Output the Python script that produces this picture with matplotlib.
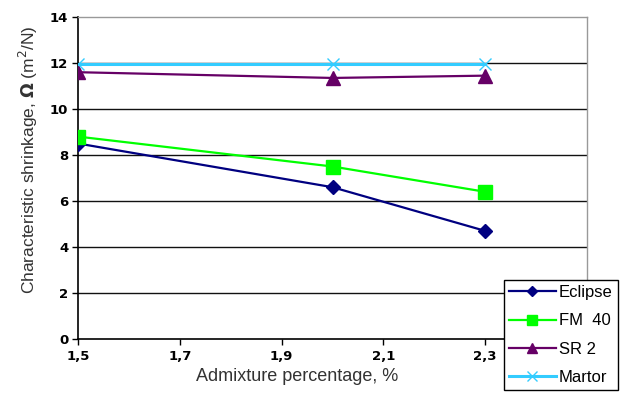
import matplotlib
matplotlib.use("Agg")
import matplotlib.pyplot as plt

x = [1.5, 2.0, 2.3]
eclipse = [8.5, 6.6, 4.7]
fm40 = [8.8, 7.5, 6.4]
sr2 = [11.6, 11.35, 11.45]
martor = [11.95, 11.95, 11.95]
xticks = [1.5, 1.7, 1.9, 2.1, 2.3]
xticklabels = ["1,5", "1,7", "1,9", "2,1", "2,3"]
yticks = [0, 2, 4, 6, 8, 10, 12, 14]

W, H = 633, 394
fig = plt.figure(figsize=(W/100, H/100), dpi=100)
ax = fig.add_axes([78/W, 1-339/H, (587-78)/W, (339-17)/H])

for yv in yticks[1:-1]:
    ax.axhline(yv, color="#111111", lw=1.0, zorder=1)

ax.plot(x, eclipse, color="#000080", marker="D", ms=7, lw=1.6, label="Eclipse", zorder=3)
ax.plot(x, fm40, color="#00FF00", marker="s", ms=10, lw=1.6, label="FM  40", zorder=3)
ax.plot(x, sr2, color="#660066", marker="^", ms=10, lw=1.6, label="SR 2", zorder=3)
ax.plot(x, martor, color="#33CCFF", marker="x", ms=9, mew=1.0, lw=2.2, label="Martor", zorder=4)

ax.set_xlim(1.5, 2.5)
ax.set_ylim(0, 14)
ax.set_xticks(xticks)
ax.set_xticklabels(xticklabels)
ax.set_yticks(yticks)
for lab in ax.get_xticklabels() + ax.get_yticklabels():
    lab.set_fontweight("bold")
    lab.set_fontfamily("DejaVu Sans")
    lab.set_fontsize(9.5)
ax.tick_params(axis="both", length=4, width=1, color="black", pad=3)
ax.tick_params(axis="x", pad=4)

for side in ["left", "bottom"]:
    ax.spines[side].set_color("black")
    ax.spines[side].set_linewidth(1.2)
for side in ["top", "right"]:
    ax.spines[side].set_color("#999999")
    ax.spines[side].set_linewidth(1.0)

ax.set_xlabel("Admixture percentage, %", fontsize=13, family="Liberation Sans", color="#333333")
ax.set_ylabel(r"Characteristic shrinkage, $\mathbf{\Omega}$ (m$^2$/N)", fontsize=12.5,
              family="Liberation Sans", color="#333333")
ax.xaxis.set_label_coords((297.5-78)/509, (339-368)/322)
ax.yaxis.set_label_coords((40-78)/509, (339-160)/322)

handles, labels = ax.get_legend_handles_labels()
leg = fig.legend(handles, labels, loc="upper left", bbox_to_anchor=(504/W, 1-280/H),
                 frameon=True, fancybox=False, edgecolor="black", framealpha=1,
                 prop={"family": "Liberation Sans", "size": 12}, handlelength=2.8,
                 markerscale=0.75,
                 borderpad=0.3, labelspacing=0.8, handletextpad=0.2, borderaxespad=0)
leg.get_frame().set_linewidth(1.0)
leg.set_zorder(10)

fig.savefig("out.png", dpi=100)
